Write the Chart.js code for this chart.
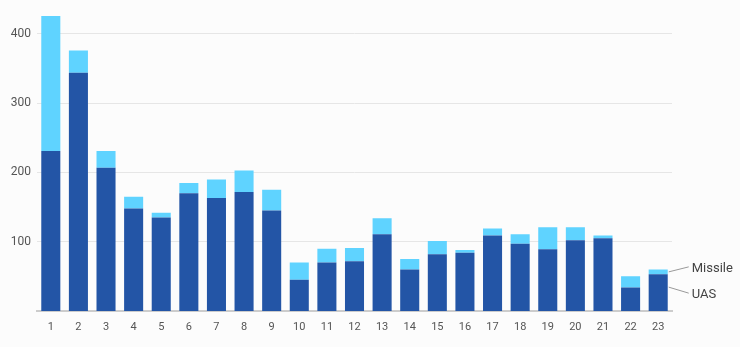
<!DOCTYPE html>
<html>
<head>
<meta charset="utf-8">
<script src="https://cdn.jsdelivr.net/npm/chart.js@4/dist/chart.umd.min.js"></script>
<style>
  html, body { margin: 0; padding: 0; background: #fcfcfc; }
  #wrap { width: 740px; height: 347px; }
</style>
</head>
<body>
<div id="wrap"><canvas id="chart" width="740" height="347"></canvas></div>
<script>
// categories and series
const labels = ['1','2','3','4','5','6','7','8','9','10','11','12','13','14','15','16','17','18','19','20','21','22','23'];
const uas     = [231, 344, 207, 148, 135, 170, 163, 172, 145, 45, 70, 72, 111, 60, 82, 84, 109, 97, 89, 102, 105, 34, 53];
const missile = [195,  32,  24,  17,   7,  15,  27,  31,  30, 25, 20, 19,  23, 15, 19,  4,  10, 14, 32,  19,   4, 16,  7];
const yTicks  = [100, 200, 300, 400];

const DARK = '#2355a6';
const LIGHT = '#5fd3ff';
const FONT = 'Roboto, "Liberation Sans", sans-serif';

// labels at the end of the last bar, with a small leader line
const endLabels = {
  id: 'endLabels',
  afterDatasetsDraw(chart) {
    const ctx = chart.ctx;
    const last = labels.length - 1;
    const y = chart.scales.y;
    const barU = chart.getDatasetMeta(0).data[last];
    const right = barU.x + barU.width / 2;
    const uasMid = y.getPixelForValue(uas[last] * 0.65);
    const misMid = y.getPixelForValue(uas[last] + missile[last] / 2);
    const tx = right + 24;
    const items = [
      { text: 'Missile', from: misMid, to: misMid - 5 },
      { text: 'UAS', from: uasMid, to: uasMid + 6 }
    ];
    ctx.save();
    ctx.strokeStyle = '#999';
    ctx.lineWidth = 1;
    ctx.fillStyle = '#444';
    ctx.font = '13px ' + FONT;
    ctx.textBaseline = 'middle';
    items.forEach(it => {
      ctx.beginPath();
      ctx.moveTo(right + 1, it.from);
      ctx.lineTo(tx - 3, it.to);
      ctx.stroke();
      ctx.fillText(it.text, tx, it.to + 2);
    });
    ctx.restore();
  }
};

new Chart(document.getElementById('chart'), {
  type: 'bar',
  data: {
    labels: labels,
    datasets: [
      { label: 'UAS', data: uas, backgroundColor: DARK, borderWidth: 0 },
      { label: 'Missile', data: missile, backgroundColor: LIGHT, borderWidth: 0 }
    ]
  },
  options: {
    responsive: false,
    animation: false,
    layout: { padding: { top: 8, right: 68, left: 0, bottom: 0 } },
    datasets: { bar: { categoryPercentage: 1, barPercentage: 0.69 } },
    plugins: { legend: { display: false }, tooltip: { enabled: false } },
    scales: {
      x: {
        stacked: true,
        afterFit: s => { s.height = 36; },
        grid: { display: false, drawTicks: false },
        border: { color: '#cccccc', width: 2 },
        ticks: { color: '#555', font: { family: FONT, size: 11 }, padding: 10, maxRotation: 0 }
      },
      y: {
        stacked: true,
        min: 0,
        max: 430,
        afterFit: s => { s.width = 37; },
        afterBuildTicks: s => { s.ticks = yTicks.map(v => ({ value: v })); },
        grid: { color: '#e6e6e6', drawTicks: false },
        border: { display: false },
        ticks: { color: '#555', font: { family: FONT, size: 12 }, padding: 6 }
      }
    }
  },
  plugins: [endLabels]
});
</script>
</body>
</html>
